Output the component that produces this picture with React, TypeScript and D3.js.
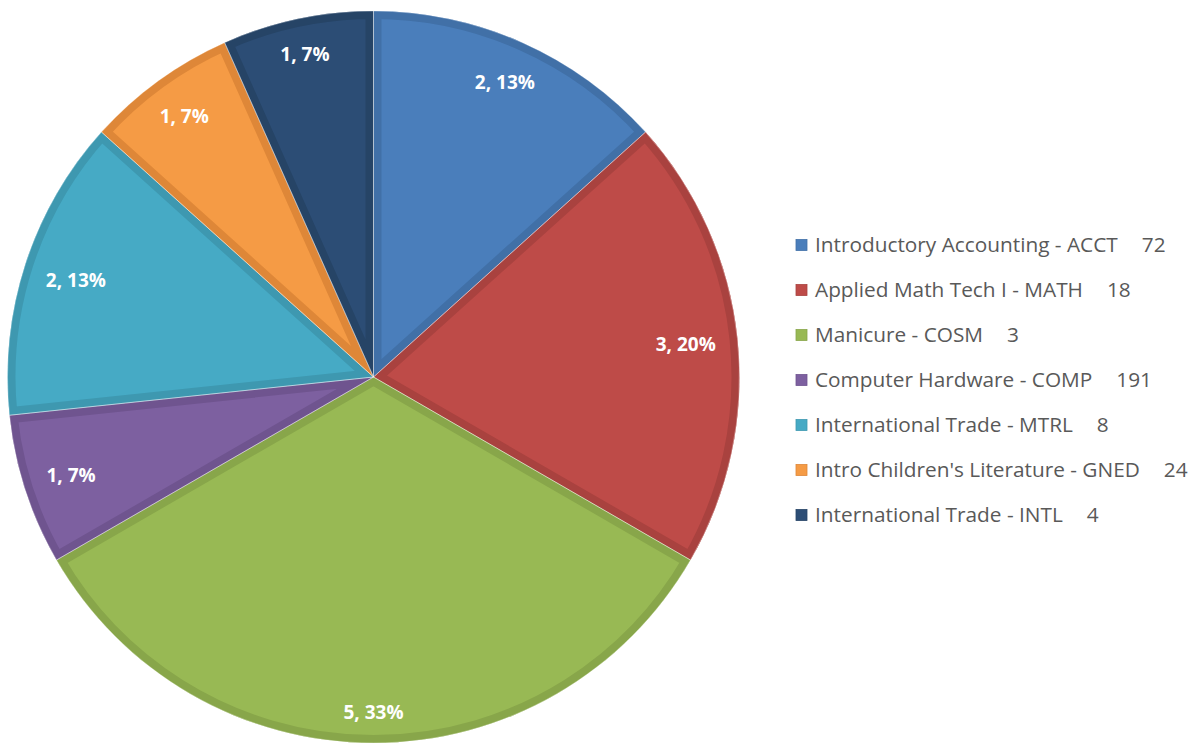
import React from "react";
import * as d3 from "d3";

const categories = [
  "Introductory Accounting - ACCT",
  "Applied Math Tech I - MATH",
  "Manicure - COSM",
  "Computer Hardware - COMP",
  "International Trade - MTRL",
  "Intro Children's Literature - GNED",
  "International Trade - INTL",
];
const counts = [2, 3, 5, 1, 2, 1, 1];
const legendNumbers = ["72", "18", "3", "191", "8", "24", "4"];
const fills = ["#4A7EBB", "#BE4B48", "#98B954", "#7D60A0", "#46AAC5", "#F59B45", "#2C4D75"];
const borders = ["#4170A7", "#A9423F", "#88A64A", "#6F548F", "#3E98B0", "#DE8738", "#264466"];

const W = 1194;
const H = 743;
const cx = 373.5;
const cy = 377;
const R = 366;

export default function App() {
  const total = d3.sum(counts);
  const pie = d3.pie<number>().sort(null).value((d) => d)(counts);
  const arc = d3.arc<d3.PieArcDatum<number>>().innerRadius(0).outerRadius(R);

  const labelFont = 19;
  const charW = labelFont * 0.56;

  return (
    <svg
      width={W}
      height={H}
      style={{ position: "absolute", left: 0, top: 0, background: "#fff" }}
      fontFamily="'Open Sans', sans-serif"
    >
      <defs>
        {pie.map((p, i) => (
          <clipPath id={`clip${i}`} key={i}>
            <path d={arc(p) || ""} />
          </clipPath>
        ))}
      </defs>
      <g transform={`translate(${cx},${cy})`}>
        {pie.map((p, i) => (
          <g key={i}>
            <path d={arc(p) || ""} fill={fills[i]} />
            <path
              d={arc(p) || ""}
              fill="none"
              stroke={borders[i]}
              strokeWidth={16}
              clipPath={`url(#clip${i})`}
            />
          </g>
        ))}
        {pie.map((p, i) => (
          <path
            key={"sep" + i}
            d={arc(p) || ""}
            fill="none"
            stroke="#ffffff"
            strokeOpacity={0.35}
            strokeWidth={1}
          />
        ))}
        {pie.map((p, i) => {
          const text = `${counts[i]}, ${Math.round((counts[i] / total) * 100)}%`;
          const w = text.length * charW;
          const h = labelFont * 1.1;
          const a = (p.startAngle + p.endAngle) / 2;
          const sx = Math.sin(a);
          const sy = -Math.cos(a);
          const pad = 19;
          let d = R;
          for (let k = 0; k < 400; k++) {
            const x = d * sx + Math.sign(sx || 1) * w / 2;
            const y = d * sy + Math.sign(sy || 1) * h / 2;
            if (Math.hypot(x, y) <= R - pad) break;
            d -= 1;
          }
          return (
            <text
              key={"lab" + i}
              x={d * sx}
              y={d * sy}
              dy="0.36em"
              textAnchor="middle"
              fill="#ffffff"
              fontWeight={700}
              fontSize={labelFont}
            >
              {text}
            </text>
          );
        })}
      </g>
      <g>
        {categories.map((c, i) => {
          const y = 245 + i * 45;
          return (
            <g key={"leg" + i}>
              <rect x={796} y={y - 5.5} width={11} height={11} fill={fills[i]} stroke={borders[i]} strokeWidth={0.8} />
              <text x={815} y={y} dy="0.36em" fontSize={20.8} fill="#595959">
                {c}
                <tspan dx={24}>{legendNumbers[i]}</tspan>
              </text>
            </g>
          );
        })}
      </g>
    </svg>
  );
}
